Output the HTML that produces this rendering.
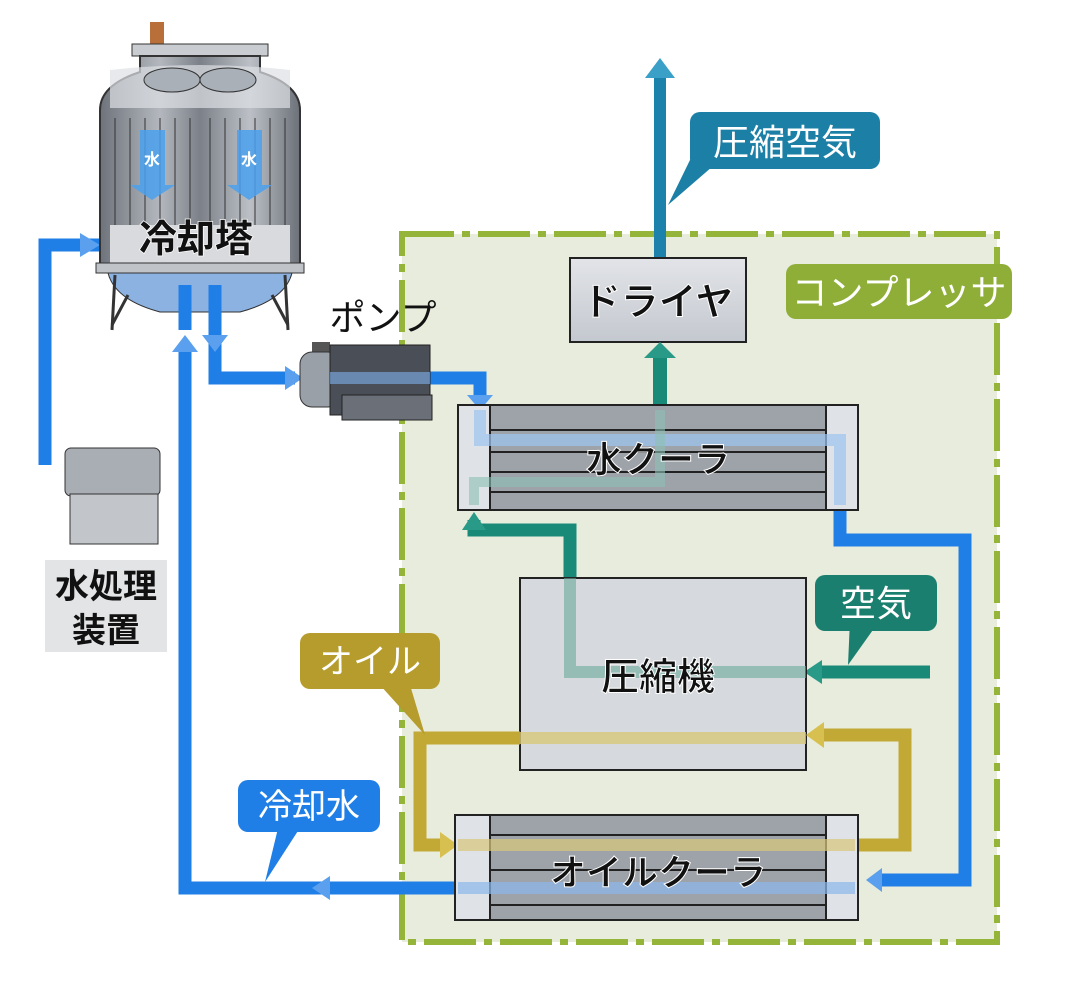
<!DOCTYPE html>
<html><head><meta charset="utf-8"><style>
html,body{margin:0;padding:0;background:#fff;}
svg{display:block;}
text{font-family:"Liberation Sans","Noto Sans CJK JP",sans-serif;font-weight:bold;}
text.n{font-weight:normal;}
</style></head><body>
<svg width="1066" height="997" viewBox="0 0 1066 997" xmlns="http://www.w3.org/2000/svg">
<defs>
<linearGradient id="gray" x1="0" y1="0" x2="0" y2="1"><stop offset="0" stop-color="#e2e4e8"/><stop offset="1" stop-color="#c4c8cf"/></linearGradient>
<linearGradient id="tower" x1="0" y1="0" x2="1" y2="0"><stop offset="0" stop-color="#6e737b"/><stop offset=".3" stop-color="#b4b8be"/><stop offset=".5" stop-color="#7c8189"/><stop offset=".75" stop-color="#bcc0c6"/><stop offset="1" stop-color="#6c7179"/></linearGradient>
</defs>

<rect x="402" y="234" width="595" height="708" fill="#e8ecdc"/>
<rect x="402" y="234" width="595" height="708" fill="none" stroke="#94b43a" stroke-width="6" stroke-dasharray="52,8,8,8"/>

<rect x="654" y="75" width="12" height="185" fill="#1c82ab"/>
<polygon points="645,78 660,58 675,78" fill="#3aa0c8"/>
<polygon points="690,160 720,160 668,205" fill="#1c7fa6"/>
<rect x="690" y="112" width="190" height="57" rx="10" fill="#1c7fa6"/>
<text class="n" x="785" y="155" font-size="36" fill="#fff" text-anchor="middle">圧縮空気</text>

<rect x="570" y="258" width="176" height="84" fill="url(#gray)" stroke="#222" stroke-width="2"/>
<text x="658" y="315" font-size="38" fill="#111" text-anchor="middle" stroke="#fff" stroke-width="1">ドライヤ</text>

<rect x="786" y="264" width="226" height="55" rx="10" fill="#8eae38"/>
<text class="n" x="899" y="305" font-size="36" fill="#fff" text-anchor="middle">コンプレッサ</text>

<rect x="653" y="355" width="14" height="55" fill="#1a8a78"/>
<polygon points="644,358 660,342 676,358" fill="#2a9a88"/>
<polyline points="570,578 570,530 474,530 474,520" fill="none" stroke="#1a8a78" stroke-width="13"/>
<polygon points="462,530 474,512 486,530" fill="#2a9a88"/>
<polyline points="930,672 820,672" fill="none" stroke="#1a8a78" stroke-width="13"/>
<polygon points="822,660 804,672 822,684" fill="#2a9a88"/>
<polygon points="850,620 880,620 848,665" fill="#1a7f6e"/>
<rect x="815" y="575" width="122" height="56" rx="10" fill="#1a7f6e"/>
<text class="n" x="876" y="616" font-size="36" fill="#fff" text-anchor="middle">空気</text>

<rect x="520" y="578" width="286" height="192" fill="#d6d9dd" stroke="#222" stroke-width="2"/>
<polyline points="570,578 570,672 806,672" fill="none" stroke="#6aa89c" stroke-width="12" opacity=".6"/>
<line x1="520" y1="738" x2="806" y2="738" stroke="#d8c87a" stroke-width="12" opacity=".8"/>
<text x="658" y="690" font-size="38" fill="#111" text-anchor="middle" stroke="#fff" stroke-width="1">圧縮機</text>

<polyline points="520,738 420,738 420,845 440,845" fill="none" stroke="#c2a834" stroke-width="13"/>
<polygon points="440,832 458,845 440,858" fill="#d8c050"/>
<polyline points="858,845 905,845 905,735 822,735" fill="none" stroke="#c2a834" stroke-width="13"/>
<polygon points="824,722 806,735 824,748" fill="#d8c050"/>
<polygon points="380,685 410,685 425,735" fill="#b59c2c"/>
<rect x="300" y="633" width="140" height="56" rx="10" fill="#b59c2c"/>
<text class="n" x="370" y="673" font-size="34" fill="#fff" text-anchor="middle">オイル</text>

<g fill="none" stroke="#1f7fe6" stroke-width="13">
<polyline points="45,465 45,245 125,245"/>
<polyline points="215,290 215,378 295,378"/>
<polyline points="430,378 480,378 480,398"/>
<polyline points="840,510 840,540 965,540 965,880 880,880"/>
<polyline points="455,888 185,888 185,350"/>
<line x1="185" y1="290" x2="185" y2="330"/>
</g>
<polygon points="80,233 100,245 80,257" fill="#5aa0ee"/>
<polygon points="285,366 303,378 285,390" fill="#5aa0ee"/>
<polygon points="202,335 215,352 228,335" fill="#5aa0ee"/>
<polygon points="172,352 185,335 198,352" fill="#5aa0ee"/>
<polygon points="467,395 480,410 493,395" fill="#5aa0ee"/>
<polygon points="882,868 866,880 882,892" fill="#5aa0ee"/>
<polygon points="330,876 312,888 330,900" fill="#5aa0ee"/>
<polygon points="280,820 305,820 265,882" fill="#1f7fe6"/>
<rect x="238" y="780" width="142" height="52" rx="10" fill="#1f7fe6"/>
<text class="n" x="309" y="818" font-size="34" fill="#fff" text-anchor="middle">冷却水</text>

<g>
<rect x="458" y="405" width="400" height="105" fill="#9ea3aa" stroke="#222" stroke-width="2"/>
<rect x="458" y="405" width="32" height="105" fill="#dfe2e6" stroke="#222" stroke-width="2"/>
<rect x="826" y="405" width="32" height="105" fill="#dfe2e6" stroke="#222" stroke-width="2"/>
<g stroke="#222" stroke-width="2"><line x1="490" y1="430" x2="826" y2="430"/><line x1="490" y1="452" x2="826" y2="452"/><line x1="490" y1="472" x2="826" y2="472"/><line x1="490" y1="492" x2="826" y2="492"/></g>
<polyline points="480,410 480,440 840,440 840,505" fill="none" stroke="#9cc4f0" stroke-width="12" opacity=".7"/>
<polyline points="474,505 474,482 660,482 660,410" fill="none" stroke="#8cc0b4" stroke-width="10" opacity=".6"/>
<text x="658" y="472" font-size="36" fill="#111" text-anchor="middle" stroke="#fff" stroke-width="1">水クーラ</text>
</g>

<g>
<rect x="455" y="815" width="403" height="105" fill="#9ea3aa" stroke="#222" stroke-width="2"/>
<rect x="455" y="815" width="35" height="105" fill="#dfe2e6" stroke="#222" stroke-width="2"/>
<rect x="826" y="815" width="32" height="105" fill="#dfe2e6" stroke="#222" stroke-width="2"/>
<g stroke="#222" stroke-width="2"><line x1="490" y1="835" x2="826" y2="835"/><line x1="490" y1="870" x2="826" y2="870"/><line x1="490" y1="905" x2="826" y2="905"/></g>
<line x1="458" y1="845" x2="855" y2="845" stroke="#d8c87a" stroke-width="12" opacity=".7"/>
<line x1="458" y1="888" x2="855" y2="888" stroke="#8cb8ec" stroke-width="12" opacity=".7"/>
<text x="658" y="885" font-size="36" fill="#111" text-anchor="middle" stroke="#fff" stroke-width="1">オイルクーラ</text>
</g>

<rect x="312" y="342" width="18" height="10" fill="#555"/>
<rect x="300" y="352" width="40" height="55" rx="12" fill="#9aa0a8" stroke="#333"/>
<rect x="330" y="345" width="100" height="70" fill="#4a4f57" stroke="#222"/>
<rect x="342" y="395" width="90" height="25" fill="#6b7078" stroke="#222"/>
<line x1="330" y1="378" x2="430" y2="378" stroke="#7fb0ee" stroke-width="12" opacity=".6"/>
<text class="n" x="383" y="330" font-size="36" fill="#111" text-anchor="middle">ポンプ</text>

<rect x="65" y="448" width="95" height="48" rx="6" fill="#a9adb4" stroke="#333"/>
<rect x="70" y="494" width="88" height="50" fill="#c2c5ca" stroke="#333"/>
<rect x="45" y="560" width="122" height="92" fill="#e3e4e6"/>
<text x="106" y="598" font-size="34" fill="#111" text-anchor="middle">水処理</text>
<text x="106" y="642" font-size="34" fill="#111" text-anchor="middle">装置</text>

<rect x="150" y="22" width="14" height="22" fill="#b86f3a"/>
<rect x="132" y="44" width="136" height="12" fill="#c9ccd1" stroke="#333"/>
<path d="M140,56 L140,72 Q100,85 100,110 L100,268 L300,268 L300,110 Q300,85 260,72 L260,56 Z" fill="url(#tower)" stroke="#333" stroke-width="2"/>
<path d="M110,108 L290,108 L290,70 Q200,60 110,70 Z" fill="#dde0e4" opacity=".7"/>
<ellipse cx="172" cy="80" rx="28" ry="12" fill="#aab0b8" stroke="#333"/>
<ellipse cx="228" cy="80" rx="28" ry="12" fill="#aab0b8" stroke="#333"/>
<g stroke="#333" stroke-width="1">
<line x1="115" y1="118" x2="115" y2="225"/><line x1="130" y1="118" x2="130" y2="225"/><line x1="145" y1="118" x2="145" y2="225"/><line x1="160" y1="118" x2="160" y2="225"/><line x1="175" y1="118" x2="175" y2="225"/><line x1="190" y1="118" x2="190" y2="225"/><line x1="210" y1="118" x2="210" y2="225"/><line x1="225" y1="118" x2="225" y2="225"/><line x1="240" y1="118" x2="240" y2="225"/><line x1="255" y1="118" x2="255" y2="225"/><line x1="270" y1="118" x2="270" y2="225"/><line x1="285" y1="118" x2="285" y2="225"/>
</g>
<rect x="110" y="225" width="180" height="40" fill="#d8dadd"/>
<polygon points="140,130 165,130 165,185 175,185 152,200 130,185 140,185" fill="#4aa0ee" opacity=".85"/>
<polygon points="237,130 262,130 262,185 272,185 249,200 227,185 237,185" fill="#4aa0ee" opacity=".85"/>
<text x="152" y="165" font-size="16" fill="#fff" text-anchor="middle">水</text>
<text x="249" y="165" font-size="16" fill="#fff" text-anchor="middle">水</text>
<rect x="96" y="263" width="208" height="10" fill="#c0c3c8" stroke="#333"/>
<path d="M108,273 L292,273 Q285,300 240,312 L160,312 Q115,300 108,273 Z" fill="#8cb2e2" stroke="#333"/>
<g stroke="#333" stroke-width="3"><line x1="115" y1="275" x2="112" y2="330"/><line x1="285" y1="275" x2="288" y2="330"/><line x1="128" y1="295" x2="112" y2="325"/><line x1="272" y1="295" x2="288" y2="325"/></g>
<line x1="185" y1="285" x2="185" y2="330" stroke="#1f7fe6" stroke-width="13"/>
<line x1="215" y1="285" x2="215" y2="330" stroke="#1f7fe6" stroke-width="13"/>
<text x="196" y="252" font-size="38" fill="#111" text-anchor="middle" stroke="#fff" stroke-width="1.5" paint-order="stroke">冷却塔</text>
</svg>
</body></html>
